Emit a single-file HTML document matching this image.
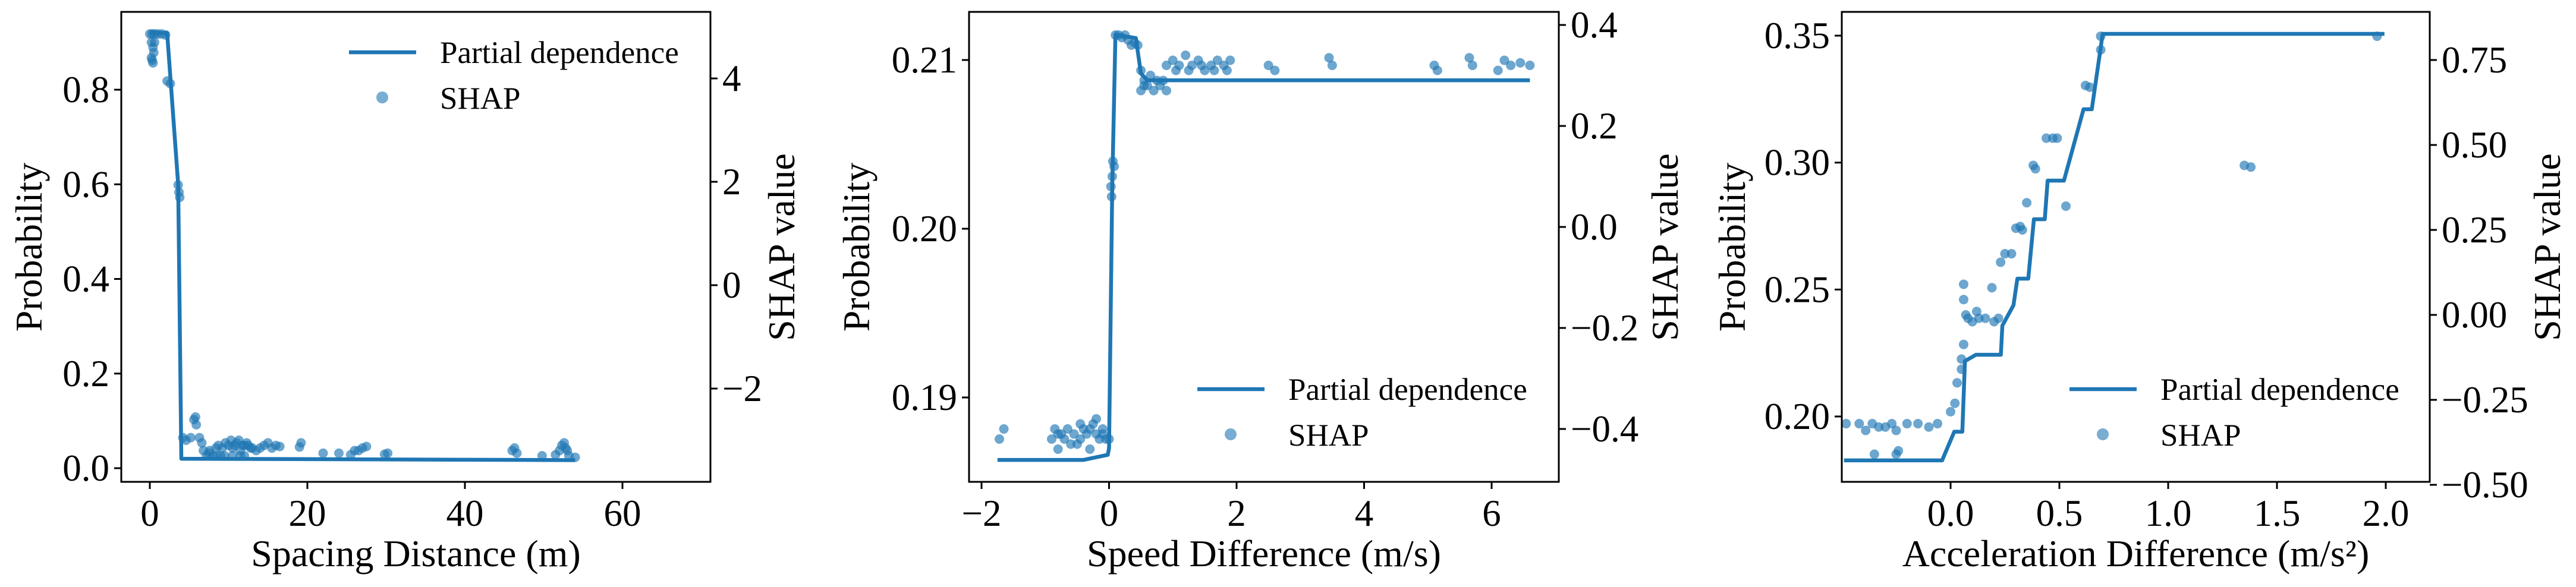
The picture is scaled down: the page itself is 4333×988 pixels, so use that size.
<!DOCTYPE html>
<html><head><meta charset="utf-8"><style>
html,body{margin:0;padding:0;background:#fff;}
svg{display:block;font-family:"Liberation Serif",serif;}
</style></head><body>
<svg id="fig" width="4333" height="988" viewBox="0 0 4333 988" xmlns="http://www.w3.org/2000/svg"></svg>
<script>
// Panel 1 data
const p1LineX=[0,2.2,3.6,4,54];
const p1LineY=[0.92,0.92,0.60,0.02,0.017];
const p1ShapX=[0,0.3,0.6,1,1.5,2,0.2,0.4,0.5,0.2,0.4,0.6,0.3,2.2,2.6,3.6,3.7,3.8,4.2,4.6,5.2,5.6,5.8,5.9,6.3,6.6,7.2,7.6,8,8.4,8.7,9.2,9.6,10,10.3,10.5,10.8,11,11.3,11.5,11.8,12,12.3,12.5,12.8,13,14.5,15,15.5,16,16.5,19,19.2,22,24,25.5,26,26.5,27,27.5,29.8,30.2,46,46.3,46.6,49.8,51.5,52,52.3,52.6,52.8,53,53.2,54,8.5,9.5,10.5,11.5,12,9,7.5,13.5,6.8,14];
const p1ShapY=[4.86,4.86,4.86,4.86,4.86,4.84,4.7,4.6,4.5,4.4,4.3,4.7,4.35,3.95,3.9,1.94,1.8,1.7,-2.95,-3.0,-2.95,-2.6,-2.55,-2.7,-2.95,-3.05,-3.3,-3.2,-3.3,-3.15,-3.1,-3.15,-3.05,-3.1,-3.0,-3.15,-3.1,-3.05,-3.0,-3.2,-3.1,-3.1,-3.05,-3.1,-3.15,-3.15,-3.1,-3.05,-3.15,-3.1,-3.12,-3.13,-3.05,-3.25,-3.25,-3.28,-3.2,-3.2,-3.15,-3.12,-3.27,-3.25,-3.2,-3.15,-3.25,-3.3,-3.28,-3.2,-3.1,-3.05,-3.15,-3.2,-3.3,-3.33,-3.3,-3.3,-3.3,-3.3,-3.3,-3.3,-3.25,-3.2,-3.2,-3.15];
const p1XTicks=[0,20,40,60];
const p1LTicks=[0,0.2,0.4,0.6,0.8];
const p1LTickLabels=["0.0","0.2","0.4","0.6","0.8"];
const p1RTicks=[-2,0,2,4];
const p1RTickLabels=["\u22122","0","2","4"];
// Panel 2 data
const p2LineX=[-1.75,-0.4,-0.02,0.0,0.05,0.1,0.42,0.5,0.6,6.6];
const p2LineY=[0.1863,0.1863,0.1866,0.187,0.2025,0.2115,0.2113,0.2092,0.2088,0.2088];
const p2ShapX=[-1.72,-1.65,-0.9,-0.85,-0.8,-0.75,-0.7,-0.65,-0.6,-0.55,-0.5,-0.45,-0.4,-0.35,-0.3,-0.25,-0.2,-0.15,-0.1,-0.05,0,-0.3,-0.8,-0.45,-0.2,-0.1,0.05,0.08,0.03,0.06,0.04,0.1,0.15,0.2,0.25,0.3,0.35,0.4,0.45,0.5,0.55,0.6,0.7,0.8,0.9,0.5,0.65,0.75,0.55,0.85,0.9,1.0,1.05,1.1,1.2,1.25,1.3,1.4,1.45,1.5,1.6,1.65,1.7,1.8,1.85,1.9,2.5,2.6,3.45,3.5,5.1,5.15,5.65,5.7,6.1,6.2,6.3,6.45,6.6];
const p2ShapY=[-0.42,-0.40,-0.42,-0.40,-0.41,-0.41,-0.42,-0.40,-0.43,-0.41,-0.43,-0.42,-0.40,-0.41,-0.40,-0.39,-0.41,-0.42,-0.40,-0.42,-0.42,-0.44,-0.44,-0.39,-0.38,-0.41,0.10,0.12,0.08,0.13,0.06,0.38,0.38,0.375,0.38,0.37,0.36,0.365,0.36,0.31,0.29,0.28,0.27,0.28,0.27,0.27,0.30,0.29,0.28,0.29,0.32,0.33,0.31,0.32,0.34,0.31,0.32,0.33,0.32,0.31,0.32,0.31,0.33,0.32,0.31,0.33,0.32,0.31,0.335,0.32,0.32,0.31,0.335,0.32,0.31,0.33,0.32,0.325,0.32];
const p2XTicks=[-2,0,2,4,6];
const p2XTickLabels=["\u22122","0","2","4","6"];
const p2LTicks=[0.19,0.20,0.21];
const p2LTickLabels=["0.19","0.20","0.21"];
const p2RTicks=[-0.4,-0.2,0,0.2,0.4];
const p2RTickLabels=["\u22120.4","\u22120.2","0.0","0.2","0.4"];
// Panel 3 data
const p3LineX=[-0.49,-0.039,0.017,0.054,0.066,0.116,0.231,0.238,0.289,0.307,0.357,0.383,0.433,0.446,0.521,0.611,0.649,0.699,1.994];
const p3LineY=[0.1827,0.1827,0.194,0.194,0.2218,0.2243,0.2243,0.2358,0.2438,0.2543,0.2543,0.2777,0.2777,0.2929,0.2929,0.321,0.321,0.3507,0.3507];
const p3ShapX=[-0.48,-0.42,-0.36,-0.3,-0.27,-0.2,-0.15,-0.1,-0.06,-0.39,-0.33,-0.25,-0.35,-0.25,-0.24,0.0,0.03,0.05,0.02,0.06,0.06,0.06,0.05,0.07,0.08,0.1,0.13,0.16,0.2,0.22,0.12,0.19,0.23,0.25,0.28,0.3,0.32,0.33,0.35,0.38,0.39,0.44,0.47,0.49,0.53,0.62,0.64,0.69,0.69,1.35,1.38,1.96];
const p3ShapY=[-0.32,-0.32,-0.32,-0.33,-0.32,-0.32,-0.32,-0.33,-0.32,-0.34,-0.33,-0.34,-0.41,-0.41,-0.40,-0.285,-0.2,-0.16,-0.26,0.045,0.09,-0.087,-0.13,0.0,-0.01,-0.02,-0.01,-0.01,-0.02,-0.01,0.01,0.08,0.155,0.18,0.18,0.255,0.26,0.25,0.33,0.44,0.43,0.52,0.52,0.52,0.32,0.675,0.67,0.78,0.82,0.44,0.435,0.82];
const p3XTicks=[0,0.5,1.0,1.5,2.0];
const p3XTickLabels=["0.0","0.5","1.0","1.5","2.0"];
const p3LTicks=[0.20,0.25,0.30,0.35];
const p3LTickLabels=["0.20","0.25","0.30","0.35"];
const p3RTicks=[-0.5,-0.25,0,0.25,0.5,0.75];
const p3RTickLabels=["\u22120.50","\u22120.25","0.00","0.25","0.50","0.75"];

const NS="http://www.w3.org/2000/svg";
const svg=document.getElementById('fig');
const C="#1f77b4";
function mk(tag,attrs,parent){const e=document.createElementNS(NS,tag);for(const k in attrs)e.setAttribute(k,attrs[k]);(parent||svg).appendChild(e);return e;}
function lin(d0,d1,p0,p1){return v=>p0+(v-d0)*(p1-p0)/(d1-d0);}

function panel(cfg){
  const g=mk('g',{});
  
  
  const L=cfg.L,R=cfg.R,T=20,B=811;
  const sx=lin(cfg.xd[0],cfg.xd[1],cfg.xp[0],cfg.xp[1]);
  const sy=lin(cfg.ld[0],cfg.ld[1],cfg.lp[0],cfg.lp[1]);
  const sr=lin(cfg.rd[0],cfg.rd[1],cfg.rp[0],cfg.rp[1]);
  const sg=mk('g',{},g);
  
  
  cfg.sx.forEach((x,i)=>{
    const c=mk('circle',{cx:sx(x),cy:sr(cfg.sy[i]),r:8,fill:C,'fill-opacity':0.65},sg);
    
    
  });
  const pts=cfg.lx.map((x,i)=>sx(x)+','+sy(cfg.ly[i])).join(' ');
  const pl=mk('polyline',{points:pts,fill:'none',stroke:C,'stroke-width':6.5,'stroke-linejoin':'round'},g);
  
  
  const fr=mk('rect',{x:L,y:T,width:R-L,height:B-T,fill:'none',stroke:'#000','stroke-width':3},g);
  
  
  cfg.xt.forEach((v,i)=>{
    const x=sx(v);
    mk('line',{x1:x,y1:B,x2:x,y2:B+12,stroke:'#000','stroke-width':3},g);
    const t=mk('text',{x:x,y:885,'font-size':63,'text-anchor':'middle'},g);
    t.textContent=cfg.xtl[i];
    
    
  });
  cfg.lt.forEach((v,i)=>{
    const y=sy(v);
    mk('line',{x1:L-12,y1:y,x2:L,y2:y,stroke:'#000','stroke-width':3},g);
    const t=mk('text',{x:L-20,y:y+21,'font-size':63,'text-anchor':'end'},g);
    t.textContent=cfg.ltl[i];
    
    
  });
  cfg.rt.forEach((v,i)=>{
    const y=sr(v);
    mk('line',{x1:R,y1:y,x2:R+12,y2:y,stroke:'#000','stroke-width':3},g);
    const t=mk('text',{x:R+20,y:y+21,'font-size':63,'text-anchor':'start'},g);
    t.textContent=cfg.rtl[i];
    
    
  });
  const xl=mk('text',{x:(L+R)/2,y:953,'font-size':64,'text-anchor':'middle'},g);
  xl.textContent=cfg.xlabel;
  
  
  const yl=mk('text',{x:0,y:0,'font-size':64,'text-anchor':'middle',transform:`translate(${cfg.ylx},416) rotate(-90)`},g);
  yl.textContent='Probability';
  
  
  const yr=mk('text',{x:0,y:0,'font-size':64,'text-anchor':'middle',transform:`translate(${cfg.yrx},416) rotate(-90)`},g);
  yr.textContent='SHAP value';
  
  
  const lg=mk('g',{},g);
  
  
  const hx=cfg.legX, hy=cfg.legY;
  mk('line',{x1:hx,y1:hy,x2:hx+113,y2:hy,stroke:C,'stroke-width':6.5},lg);
  const lt1=mk('text',{x:hx+153,y:hy+18,'font-size':53},lg);
  lt1.textContent='Partial dependence';
  
  
  mk('circle',{cx:hx+56,cy:hy+76,r:10,fill:C,'fill-opacity':0.6},lg);
  const lt2=mk('text',{x:hx+153,y:hy+95,'font-size':53},lg);
  lt2.textContent='SHAP';
  
  
}

panel({name:'panel-spacing-distance',L:204,R:1195,xd:[0,20],xp:[252,517],ld:[0,0.8],lp:[788,151],rd:[0,4],rp:[480,132],
  lx:p1LineX,ly:p1LineY,sx:p1ShapX,sy:p1ShapY,xt:p1XTicks,xtl:p1XTicks.map(String),lt:p1LTicks,ltl:p1LTickLabels,rt:p1RTicks,rtl:p1RTickLabels,
  xlabel:'Spacing Distance (m)',ylx:70,yrx:1336,legX:587,legY:88});
panel({name:'panel-speed-difference',L:1630,R:2622,xd:[-2,6],xp:[1651,2509],ld:[0.19,0.21],lp:[669,101],rd:[0,0.4],rp:[382,42],
  lx:p2LineX,ly:p2LineY,sx:p2ShapX,sy:p2ShapY,xt:p2XTicks,xtl:p2XTickLabels,lt:p2LTicks,ltl:p2LTickLabels,rt:p2RTicks,rtl:p2RTickLabels,
  xlabel:'Speed Difference (m/s)',ylx:1462,yrx:2822,legX:2014,legY:655});
panel({name:'panel-acceleration-difference',L:3098,R:4087,xd:[0,2],xp:[3281,4013],ld:[0.20,0.35],lp:[701,60],rd:[0,0.75],rp:[530,101],
  lx:p3LineX,ly:p3LineY,sx:p3ShapX,sy:p3ShapY,xt:p3XTicks,xtl:p3XTickLabels,lt:p3LTicks,ltl:p3LTickLabels,rt:p3RTicks,rtl:p3RTickLabels,
  xlabel:'Acceleration Difference (m/s\u00B2)',ylx:2935,yrx:4306,legX:3481,legY:655});
</script>
</body></html>
